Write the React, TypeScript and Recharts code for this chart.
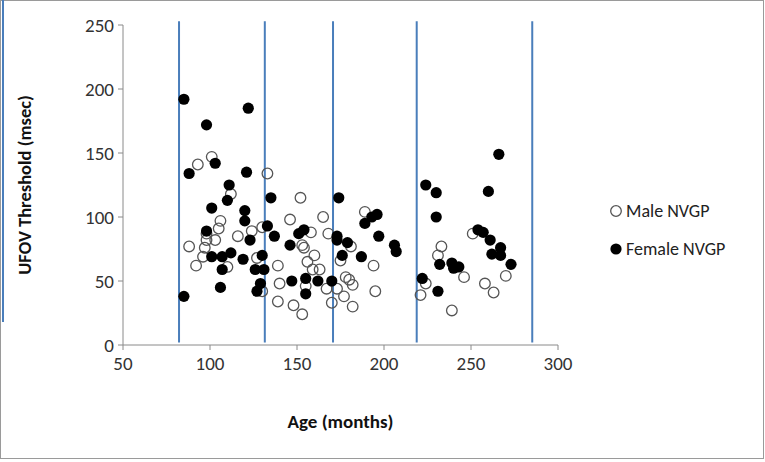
import { ScatterChart, Scatter, XAxis, YAxis, ReferenceLine } from "recharts";

// ages (months) and UFOV thresholds (msec)
const maleAge = [
  88, 93, 92, 101, 96, 97, 98, 98, 103, 105, 106, 112, 110, 116, 124, 127, 130, 130, 133, 139,
  140, 139, 146, 148, 152, 153, 154, 153, 155, 156, 158, 159, 160, 163, 165, 167, 168, 170, 175, 173,
  177, 178, 180, 182, 181, 182, 189, 194, 195, 221, 224, 231, 233, 239, 246, 251, 258, 263, 270,
];
const maleUfov = [
  77, 141, 62, 147, 69, 76, 82, 87, 82, 91, 97, 118, 61, 85, 89, 68, 92, 42, 134, 62,
  48, 34, 98, 31, 115, 78, 76, 24, 46, 65, 88, 59, 70, 59, 100, 44, 87, 33, 66, 44,
  38, 53, 51, 47, 77, 30, 104, 62, 42, 39, 48, 70, 77, 27, 53, 87, 48, 41, 54,
];
const femaleAge = [
  85, 85, 88, 98, 98, 122, 103, 121, 111, 110, 101, 120, 120, 101, 107, 112, 119, 123, 107, 106,
  126, 130, 131, 129, 127, 133, 135, 137, 146, 151, 154, 147, 155, 155, 162, 170, 174, 173, 173, 176,
  179, 187, 189, 193, 196, 197, 206, 207, 222, 224, 230, 230, 231, 232, 239, 240, 243, 254, 257, 260,
  261, 262, 266, 267, 267, 273,
];
const femaleUfov = [
  192, 38, 134, 172, 89, 185, 142, 135, 125, 113, 107, 105, 97, 69, 69, 72, 67, 82, 59, 45,
  59, 70, 59, 48, 42, 93, 115, 85, 78, 87, 90, 50, 52, 40, 50, 50, 115, 85, 82, 70,
  80, 69, 95, 100, 102, 85, 78, 73, 52, 125, 119, 100, 42, 63, 64, 60, 61, 90, 88, 120,
  82, 71, 149, 76, 70, 63,
];
const groupBounds = [82.2, 131.5, 170.7, 218.8, 285.2];
const xTicks = [50, 100, 150, 200, 250, 300];
const yTicks = [0, 50, 100, 150, 200, 250];

const maleData = maleAge.map((age, i) => ({ age, ufov: maleUfov[i] }));
const femaleData = femaleAge.map((age, i) => ({ age, ufov: femaleUfov[i] }));

const font = "Carlito, 'Liberation Sans Narrow', Lato, sans-serif";

const OpenDot = (props: any) => (
  <circle cx={props.cx} cy={props.cy} r={5.3} fill="none" stroke="#555" strokeWidth={1.3} />
);
const FilledDot = (props: any) => (
  <circle cx={props.cx} cy={props.cy} r={5.6} fill="#000" />
);

const LegendBox = () => (
  <div style={{ position: "absolute", left: 609, top: 200, fontFamily: font, fontSize: 18, color: "#222" }}>
    <div style={{ display: "flex", alignItems: "center", height: 22, marginBottom: 16 }}>
      <svg width={14} height={14}>
        <circle cx={7} cy={7} r={5.3} fill="none" stroke="#555" strokeWidth={1.3} />
      </svg>
      <span style={{ marginLeft: 3 }}>Male NVGP</span>
    </div>
    <div style={{ display: "flex", alignItems: "center", height: 22 }}>
      <svg width={14} height={14}>
        <circle cx={7} cy={7} r={5.6} fill="#000" />
      </svg>
      <span style={{ marginLeft: 3 }}>Female NVGP</span>
    </div>
  </div>
);

export default function App() {
  return (
    <div style={{ position: "absolute", left: 0, top: 0, width: 765, height: 462, background: "#fff" }}>
      <div
        style={{
          position: "absolute",
          left: 0,
          top: 0,
          width: 762,
          height: 457,
          border: "1px solid #9a9a9a",
        }}
      />
      <div style={{ position: "absolute", left: 2, top: 0, width: 2, height: 322, background: "#4a7ebb" }} />
      <ScatterChart
        width={765}
        height={462}
        margin={{ top: 25, right: 207, bottom: 87, left: 0 }}
        style={{ position: "absolute", left: 0, top: 0 }}
      >
        <XAxis
          type="number"
          dataKey="age"
          domain={[50, 300]}
          ticks={xTicks}
          height={30}
          stroke="#8a8a8a"
          tickSize={5}
          tickMargin={7}
          tick={{ fill: "#333", fontSize: 19, fontFamily: font }}
          label={{
            value: "Age (months)",
            position: "insideBottom",
            offset: -53,
            style: { fill: "#111", fontSize: 19, fontWeight: 700, fontFamily: font },
          }}
        />
        <YAxis
          type="number"
          dataKey="ufov"
          domain={[0, 250]}
          ticks={yTicks}
          width={123}
          stroke="#8a8a8a"
          tickSize={5}
          tickMargin={4}
          tick={{ fill: "#333", fontSize: 19, fontFamily: font }}
          label={{
            value: "UFOV Threshold (msec)",
            angle: -90,
            position: "insideLeft",
            offset: 24,
            style: { textAnchor: "middle", fill: "#111", fontSize: 18.5, fontWeight: 700, fontFamily: font },
          }}
        />
        {groupBounds.map((b) => (
          <ReferenceLine
            key={b}
            segment={[{ x: b, y: 2 }, { x: b, y: 253 }]}
            stroke="#4a7ebb"
            strokeWidth={2}
            ifOverflow="visible"
          />
        ))}
        <Scatter name="Male NVGP" data={maleData} shape={<OpenDot />} isAnimationActive={false} />
        <Scatter name="Female NVGP" data={femaleData} shape={<FilledDot />} isAnimationActive={false} />
      </ScatterChart>
      <LegendBox />
    </div>
  );
}
